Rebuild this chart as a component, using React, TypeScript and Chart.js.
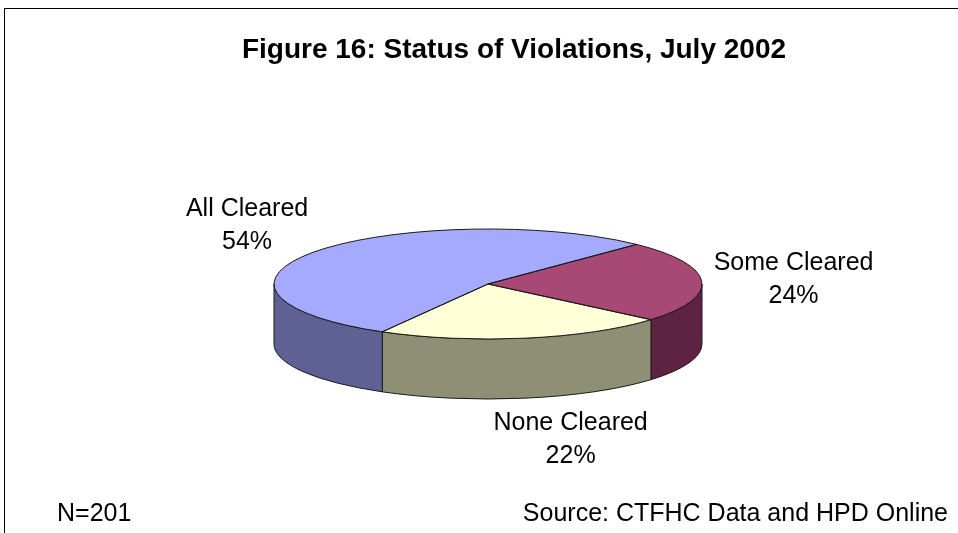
import React, { useEffect, useRef } from "react";
import { Chart, registerables } from "chart.js";

Chart.register(...registerables);

// ---- data ----
const categories = ["Some Cleared", "None Cleared", "All Cleared"];
const percentValues = [24, 22, 54];
const topColors = ["#A84874", "#FFFFD8", "#A6AAFF"];
const wallColors = ["#5E2342", "#8F8F76", "#5F6194"];
const titleText = "Figure 16: Status of Violations, July 2002";
const noteLeft = "N=201";
const noteRight = "Source: CTFHC Data and HPD Online";

// ---- style / geometry ----
const W = 958;
const H = 533;
const PIE_RADIUS = 214;
const TILT = 55 / 214;
const DEPTH = 60;
const START_ROTATION = 44;
const FONT = '"Liberation Sans", Arial, sans-serif';
const LABEL_NUDGE_X = [0, 30, -11];

function frontSegments(s: number, e: number): [number, number][] {
  const out: [number, number][] = [];
  for (let k = -3; k <= 3; k++) {
    const lo = Math.max(s, 2 * Math.PI * k);
    const hi = Math.min(e, 2 * Math.PI * k + Math.PI);
    if (hi > lo) out.push([lo, hi]);
  }
  return out;
}

const pie3d = {
  id: "pie3d",
  beforeDraw(chart: any) {
    const ctx = chart.ctx;
    ctx.save();
    ctx.fillStyle = "#ffffff";
    ctx.fillRect(0, 0, chart.width, chart.height);
    ctx.strokeStyle = "#000000";
    ctx.lineWidth = 1;
    ctx.strokeRect(4.5, 8.5, 3000, 3000);
    ctx.restore();
  },
  beforeDatasetsDraw(chart: any) {
    const ctx = chart.ctx;
    const arcs = chart.getDatasetMeta(0).data;
    if (!arcs.length) return;
    const cx = arcs[0].x;
    const cy = arcs[0].y;
    const rx = arcs[0].outerRadius;
    const ry = rx * TILT;
    ctx.save();
    ctx.lineWidth = 1;
    ctx.strokeStyle = "#1a1a1a";
    arcs.forEach((arc: any, i: number) => {
      frontSegments(arc.startAngle, arc.endAngle).forEach(([a1, a2]) => {
        ctx.beginPath();
        ctx.ellipse(cx, cy, rx, ry, 0, a1, a2, false);
        ctx.ellipse(cx, cy + DEPTH, rx, ry, 0, a2, a1, true);
        ctx.closePath();
        ctx.fillStyle = wallColors[i];
        ctx.fill();
        ctx.stroke();
      });
    });
    ctx.restore();
    ctx.save();
    ctx.translate(cx, cy);
    ctx.scale(1, TILT);
    ctx.translate(-cx, -cy);
  },
  afterDatasetsDraw(chart: any) {
    const ctx = chart.ctx;
    ctx.restore();
    const arcs = chart.getDatasetMeta(0).data;
    if (!arcs.length) return;
    const cx = arcs[0].x;
    const cy = arcs[0].y;
    const rx = arcs[0].outerRadius;
    const ry = rx * TILT;
    ctx.save();
    ctx.lineWidth = 1;
    ctx.strokeStyle = "#1a1a1a";
    arcs.forEach((arc: any) => {
      ctx.beginPath();
      ctx.moveTo(cx, cy);
      ctx.ellipse(cx, cy, rx, ry, 0, arc.startAngle, arc.endAngle, false);
      ctx.closePath();
      ctx.stroke();
    });

    // data labels
    const values = chart.data.datasets[0].data as number[];
    const total = values.reduce((a, b) => a + b, 0);
    ctx.fillStyle = "#000000";
    ctx.font = `25px ${FONT}`;
    ctx.textAlign = "center";
    ctx.textBaseline = "middle";
    const lineH = 33;
    const gap = 12;
    arcs.forEach((arc: any, i: number) => {
      const mid = (arc.startAngle + arc.endAngle) / 2;
      const c = Math.cos(mid);
      const s = Math.sin(mid);
      const ax = cx + rx * c;
      const ay = cy + ry * s + (s > 0 ? DEPTH : 0);
      const l1 = chart.data.labels[i] as string;
      const l2 = `${Math.round((values[i] / total) * 100)}%`;
      const halfW = Math.max(ctx.measureText(l1).width, ctx.measureText(l2).width) / 2;
      const halfH = 30;
      const x = ax + c * (halfW + gap) + LABEL_NUDGE_X[i];
      const y = ay + s * (halfH + gap);
      ctx.fillText(l1, x, y - lineH / 2);
      ctx.fillText(l2, x, y + lineH / 2);
    });
    ctx.restore();
  },
  afterDraw(chart: any) {
    const ctx = chart.ctx;
    ctx.save();
    ctx.fillStyle = "#000000";
    ctx.textBaseline = "middle";
    ctx.font = `bold 28px ${FONT}`;
    ctx.textAlign = "center";
    ctx.fillText(titleText, 514, 50);
    ctx.font = `25px ${FONT}`;
    ctx.textAlign = "left";
    ctx.fillText(noteLeft, 57, 514);
    ctx.textAlign = "right";
    ctx.fillText(noteRight, 948, 514);
    ctx.restore();
  },
};

export default function App() {
  const ref = useRef<HTMLCanvasElement | null>(null);
  useEffect(() => {
    if (!ref.current) return;
    const chart = new Chart(ref.current, {
      type: "pie",
      data: {
        labels: categories,
        datasets: [
          {
            data: percentValues,
            backgroundColor: topColors,
            borderWidth: 0,
            radius: PIE_RADIUS,
            clip: false,
          } as any,
        ],
      },
      options: {
        responsive: false,
        animation: false,
        events: [],
        rotation: START_ROTATION,
        layout: { padding: { left: 18, right: 0, top: 35, bottom: 0 } },
        plugins: {
          legend: { display: false },
          title: { display: false },
          tooltip: { enabled: false },
        },
      } as any,
      plugins: [pie3d],
    });
    return () => chart.destroy();
  }, []);
  return (
    <div style={{ position: "absolute", left: 0, top: 0, width: W, height: H, background: "#fff" }}>
      <canvas ref={ref} width={W} height={H} style={{ display: "block", width: W, height: H }} />
    </div>
  );
}
